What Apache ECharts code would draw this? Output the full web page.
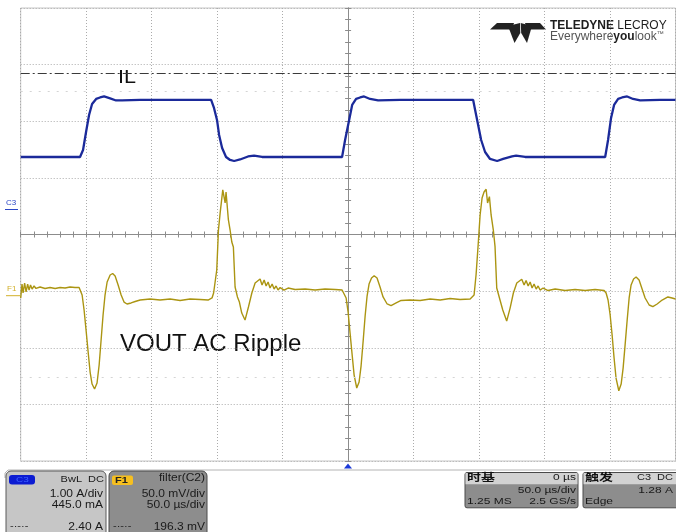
<!DOCTYPE html>
<html>
<head>
<meta charset="utf-8">
<script src="https://cdn.jsdelivr.net/npm/echarts@6/dist/echarts.min.js"></script>
<style>
  html, body { margin: 0; padding: 0; background: #fff; }
  #scope { width: 676px; height: 532px; }
</style>
</head>
<body>
<div id="scope"></div>
<script>
// time base 50 us/div, 10 div; vertical 8 div
const timeTicks = [-250, -200, -150, -100, -50, 0, 50, 100, 150, 200, 250];
const divTicks = [-4, -3, -2, -1, 0, 1, 2, 3, 4];

// channel settings
const IL_OFFSET = 0.445;     // A  (1.00 A/div)
const IL_CURSOR = 2.40;      // A
const F1_SCALE = 50;         // mV/div
const F1_ZERO_DIV = -1.081;  // F1 ground marker, in divisions

// faint dotted rows (divisions)
const faintRows = [2.53, -2.52];

// IL trace: [time us, current A]
const ilTrace = [
  [-250, 0.924], [-204.7, 0.924], [-202.4, 1.048], [-200.1, 1.366], [-197.8, 1.666],
  [-195.5, 1.860], [-192.4, 1.949], [-189.4, 1.975], [-186.3, 1.993], [-181.7, 1.958],
  [-177.2, 1.922], [-172.6, 1.922], [-158.8, 1.931], [-135.9, 1.931], [-113.0, 1.931],
  [-104.6, 1.931], [-102.4, 1.790], [-100.1, 1.578], [-98.5, 1.313], [-96.2, 1.083],
  [-93.2, 0.924], [-90.1, 0.871], [-87.0, 0.853], [-82.5, 0.880], [-76.4, 0.933],
  [-71.8, 0.947], [-65.7, 0.924], [-36.7, 0.924], [-4.6, 0.924], [-2.3, 1.224],
  [0.8, 1.578], [3.1, 1.843], [6.1, 1.949], [9.2, 1.975], [12.2, 1.993],
  [16.8, 1.949], [22.9, 1.922], [39.7, 1.931], [70.3, 1.931], [95.5, 1.931],
  [97.0, 1.754], [99.3, 1.489], [101.6, 1.224], [104.6, 1.012], [108.4, 0.889],
  [113.8, 0.853], [118.4, 0.889], [125.2, 0.933], [128.3, 0.947], [135.2, 0.924],
  [161.9, 0.924], [196.3, 0.924], [198.5, 1.224], [200.8, 1.613], [203.1, 1.843],
  [206.2, 1.949], [209.2, 1.975], [213.1, 1.993], [217.6, 1.949], [223.0, 1.922],
  [238.2, 1.931], [250, 1.931]
];

// VOUT AC ripple (F1): [time us, mV]
const voutTrace = [
  [-250, -2.0], [-249.0, 10.3], [-248.2, 2.4], [-247.0, 11.2], [-245.9, 3.3],
  [-244.7, 10.3], [-243.6, 5.0], [-242.5, 9.5], [-241.3, 5.9], [-239.8, 8.6],
  [-238.3, 6.4], [-235.2, 7.7], [-231.4, 6.4], [-227.6, 7.2], [-223.7, 6.4],
  [-219.9, 7.2], [-216.1, 6.8], [-212.3, 7.7], [-208.5, 7.2], [-205.4, 7.2],
  [-203.1, 0.6], [-201.6, -12.6], [-200.1, -30.3], [-198.5, -49.7], [-197.0, -67.4],
  [-195.5, -78.0], [-193.6, -82.4], [-191.7, -77.1], [-190.1, -61.2], [-188.6, -39.1],
  [-187.1, -17.0], [-185.6, 0.6], [-184.0, 12.1], [-181.7, 18.3], [-179.8, 19.6],
  [-177.9, 17.4], [-175.6, 9.5], [-173.3, 0.6], [-171.1, -5.6], [-168.8, -7.3],
  [-165.7, -6.4], [-162.6, -5.1], [-158.8, -3.8], [-151.2, -2.9], [-143.6, -3.8],
  [-135.9, -2.9], [-128.3, -4.2], [-120.7, -2.9], [-113.0, -3.4], [-106.9, -3.8],
  [-103.9, -2.0], [-102.7, 2.4], [-100.3, 22.7], [-99.0, 58.0], [-97.7, 73.1],
  [-95.7, 93.4], [-93.9, 81.9], [-93.2, 91.6], [-91.4, 66.9], [-90.1, 58.0],
  [-88.8, 47.4], [-87.6, 43.0], [-86.3, 7.7], [-84.5, -1.1], [-83.0, -5.6],
  [-81.2, -15.3], [-78.7, -21.5], [-76.1, -10.0], [-73.5, 2.4], [-71.0, 11.2],
  [-67.2, 14.8], [-65.7, 9.5], [-64.1, 13.9], [-62.6, 8.6], [-61.1, 12.1],
  [-59.6, 6.8], [-58.0, 10.3], [-56.5, 5.9], [-55.0, 8.6], [-53.5, 5.0],
  [-51.9, 7.2], [-48.9, 5.0], [-45.8, 6.8], [-40.5, 5.5], [-32.8, 5.9],
  [-25.2, 5.0], [-17.6, 5.9], [-9.9, 5.5], [-4.6, 5.0], [-3.1, 3.3],
  [-1.5, -2.0], [0, -14.4], [1.5, -33.0], [3.1, -52.4], [4.6, -70.1],
  [6.6, -81.5], [8.4, -76.2], [9.9, -62.1], [11.5, -40.0], [13.0, -17.9],
  [14.5, -0.3], [16.0, 10.3], [17.9, 15.6], [19.9, 17.7], [22.1, 15.6],
  [24.4, 7.7], [26.7, -1.1], [29.8, -7.3], [32.8, -8.8], [36.7, -6.4],
  [40.5, -4.2], [47.3, -3.8], [55.0, -4.2], [62.6, -2.9], [70.3, -3.8],
  [77.9, -2.5], [85.5, -3.4], [93.2, -2.9], [96.2, 0.6], [97.7, 18.3],
  [99.3, 44.8], [100.8, 71.3], [102.3, 86.3], [103.8, 91.6], [105.4, 94.0],
  [106.5, 81.9], [107.9, 87.5], [109.2, 71.3], [110.9, 58.0], [112.2, 43.3],
  [113.5, 6.8], [116.0, -3.8], [118.1, -12.6], [121.1, -22.4], [123.7, -10.9],
  [126.2, 2.4], [128.8, 11.2], [132.6, 14.5], [134.4, 9.5], [135.9, 13.5],
  [137.5, 8.6], [139.0, 12.1], [140.5, 6.8], [142.0, 10.3], [143.6, 5.9],
  [145.1, 8.6], [146.6, 5.0], [148.9, 6.8], [152.7, 4.6], [158.1, 5.9],
  [165.7, 4.6], [173.3, 5.5], [181.0, 4.6], [188.6, 5.5], [195.5, 4.6],
  [197.0, 2.4], [198.5, -3.8], [200.1, -17.0], [201.6, -34.7], [203.1, -55.0],
  [204.6, -72.7], [206.7, -83.9], [208.5, -78.0], [210.0, -63.9], [211.5, -43.6],
  [213.1, -21.5], [214.6, -2.0], [216.1, 9.5], [218.0, 14.8], [219.9, 16.5],
  [222.2, 13.9], [224.5, 5.9], [226.8, -2.0], [229.9, -8.2], [232.7, -9.7],
  [236.0, -7.3], [239.8, -3.8], [244.2, -1.1], [247.4, -2.0], [250, -2.9]
];

const FONT = '"Liberation Sans", Arial, sans-serif';
const CJK = '"Noto Sans CJK SC", sans-serif';

const gridGray = '#ababab';
const axisGray = '#8c8c8c';

function centerAxis(extra) {
  return Object.assign({
    type: 'value',
    axisLabel: { show: false },
    axisLine: { show: true, onZero: true, onZeroAxisIndex: 0, lineStyle: { color: axisGray, width: 1 } },
    axisTick: { show: true, length: 3, lineStyle: { color: axisGray } },
    minorTick: { show: true, splitNumber: 5, length: 3, lineStyle: { color: axisGray } },
    splitLine: { show: false }
  }, extra);
}

// readout text: the screen capture is squashed vertically
function txt(x, y, s, opt) {
  opt = opt || {};
  return {
    type: 'text', x: x, y: y, scaleY: opt.sy || 0.8, scaleX: opt.sx || 1, z: 10,
    style: {
      text: s, x: 0, y: 0,
      font: opt.font || ('12px ' + FONT),
      fill: opt.fill || '#1a1a1a',
      align: opt.align || 'left', verticalAlign: 'middle'
    }
  };
}

const chart = echarts.init(document.getElementById('scope'), null, { renderer: 'canvas' });

const ilMin = divTicks[0] - IL_OFFSET;
const ilMax = divTicks[divTicks.length - 1] - IL_OFFSET;
const vMin = (divTicks[0] - F1_ZERO_DIV) * F1_SCALE;
const vMax = (divTicks[divTicks.length - 1] - F1_ZERO_DIV) * F1_SCALE;

chart.setOption({
  animation: false,
  backgroundColor: '#ffffff',
  grid: {
    left: 20.7, top: 8, width: 654.8, height: 453,
    show: true, borderColor: '#c6c6c6', borderWidth: 1
  },
  xAxis: [
    centerAxis({
      min: timeTicks[0], max: timeTicks[timeTicks.length - 1], interval: 50,
      position: 'bottom',
      splitLine: { show: true, lineStyle: { color: gridGray, type: [1, 2], width: 1 } }
    }),
    centerAxis({
      min: timeTicks[0], max: timeTicks[timeTicks.length - 1], interval: 50,
      position: 'top'
    })
  ],
  yAxis: [
    centerAxis({
      min: divTicks[0], max: divTicks[divTicks.length - 1], interval: 1,
      position: 'left',
      splitLine: { show: true, lineStyle: { color: gridGray, type: [1, 2], width: 1 } }
    }),
    centerAxis({
      min: divTicks[0], max: divTicks[divTicks.length - 1], interval: 1,
      position: 'right'
    }),
    { type: 'value', show: false, min: ilMin, max: ilMax },
    { type: 'value', show: false, min: vMin, max: vMax }
  ],
  series: [
    {
      name: 'rows',
      type: 'line',
      yAxisIndex: 0,
      data: [],
      silent: true,
      markLine: {
        silent: true,
        symbol: 'none',
        label: { show: false },
        lineStyle: { color: '#d4d4d4', type: [2, 7], width: 1 },
        data: faintRows.map(v => ({ yAxis: v }))
      }
    },
    {
      name: 'VOUT AC Ripple',
      type: 'line',
      yAxisIndex: 3,
      data: voutTrace,
      showSymbol: false,
      symbol: 'none',
      lineStyle: { color: '#ab9512', width: 1.4 },
      z: 3
    },
    {
      name: 'IL',
      type: 'line',
      yAxisIndex: 2,
      data: ilTrace,
      showSymbol: false,
      symbol: 'none',
      lineStyle: { color: '#1b2a9a', width: 2.3 },
      z: 4,
      markLine: {
        silent: true,
        symbol: 'none',
        label: { show: false },
        lineStyle: { color: '#3a3a3a', type: [9, 3, 2, 3], width: 1.2 },
        data: [{ yAxis: IL_CURSOR }]
      }
    }
  ],
  graphic: [
    // trace labels
    { type: 'text', x: 118, y: 78, scaleX: 1.2, style: { text: 'IL', x: 0, y: 0, font: '18px ' + FONT, fill: '#111', verticalAlign: 'middle' } },
    { type: 'text', x: 120, y: 344, style: { text: 'VOUT AC Ripple', x: 0, y: 0, font: '24px ' + FONT, fill: '#111', verticalAlign: 'middle' } },
    // channel markers on the left edge
    { type: 'text', left: 6, top: 199, style: { text: 'C3', font: '8px ' + FONT, fill: '#2a46c6' } },
    { type: 'line', shape: { x1: 5, y1: 209.5, x2: 18, y2: 209.5 }, style: { stroke: '#2a46c6', lineWidth: 1 } },
    { type: 'text', left: 7, top: 285, style: { text: 'F1', font: '8px ' + FONT, fill: '#d2b02a' } },
    { type: 'line', shape: { x1: 6, y1: 295.7, x2: 20, y2: 295.7 }, style: { stroke: '#d2b02a', lineWidth: 1 } },
    // logo
    { type: 'polygon', shape: { points: [[490, 29.5], [497, 23], [514, 23], [512, 29.5]] }, style: { fill: '#222' } },
    { type: 'polygon', shape: { points: [[525, 23], [540, 23], [546, 29.5], [527, 29.5]] }, style: { fill: '#222' } },
    { type: 'polygon', shape: { points: [[508, 26], [520, 23], [520.3, 33], [514.5, 43]] }, style: { fill: '#222' } },
    { type: 'polygon', shape: { points: [[520.7, 23], [532, 26], [527, 43], [521.2, 33]] }, style: { fill: '#222' } },
    {
      type: 'text', x: 550, y: 26,
      style: {
        x: 0, y: 0, verticalAlign: 'middle',
        text: '{b|TELEDYNE} {n|LECROY}',
        rich: {
          b: { font: 'bold 12px ' + FONT, fill: '#1e1e1e' },
          n: { font: '12px ' + FONT, fill: '#1e1e1e' }
        }
      }
    },
    {
      type: 'text', x: 550, y: 36.5,
      style: {
        x: 0, y: 0, verticalAlign: 'middle',
        text: '{l|Everywhere}{b|you}{l|look}{t|™}',
        rich: {
          l: { font: '12px ' + FONT, fill: '#555' },
          b: { font: 'bold 12px ' + FONT, fill: '#1e1e1e' },
          t: { font: '7px ' + FONT, fill: '#555', verticalAlign: 'top' }
        }
      }
    },
    // trigger position marker + separator
    { type: 'polygon', shape: { points: [[344, 468.5], [352, 468.5], [348, 463.5]] }, style: { fill: '#1b39d8' } },
    { type: 'polyline', shape: { points: [[5, 478], [5, 473], [8, 470], [676, 470]] }, style: { stroke: '#b4b4b4', lineWidth: 1, fill: null } },

    // C3 readout
    { type: 'rect', shape: { x: 6, y: 471, width: 100, height: 70, r: [5, 5, 0, 0] }, style: { fill: '#c6c6c6', stroke: '#5a5a5a', lineWidth: 1 } },
    { type: 'rect', shape: { x: 9, y: 475, width: 26, height: 9.5, r: 3 }, style: { fill: '#0b1bd2' } },
    txt(16, 479.8, 'C3', { font: '10px ' + FONT, fill: '#3e62ff' }),
    txt(104, 479, 'BwL  DC', { font: '11px ' + FONT, align: 'right', sy: 0.85 }),
    txt(103, 494, '1.00 A/div', { align: 'right', sy: 0.85 }),
    txt(103, 505.5, '445.0 mA', { align: 'right', sy: 0.85 }),
    txt(10, 527, '-·-·-', { font: '11px ' + FONT }),
    txt(103, 527, '2.40 A', { align: 'right', sy: 0.85 }),

    // F1 readout
    { type: 'rect', shape: { x: 109, y: 471, width: 98, height: 70, r: [5, 5, 0, 0] }, style: { fill: '#8d8d8d', stroke: '#4a4a4a', lineWidth: 1 } },
    { type: 'rect', shape: { x: 112, y: 475.5, width: 21, height: 9.5, r: 2 }, style: { fill: '#f6bf1f' } },
    txt(115, 480.3, 'F1', { font: 'bold 11px ' + FONT, fill: '#222' }),
    txt(205, 478.5, 'filter(C2)', { align: 'right', sy: 0.85 }),
    txt(205, 494, '50.0 mV/div', { align: 'right', sy: 0.85 }),
    txt(205, 505.5, '50.0 µs/div', { align: 'right', sy: 0.85 }),
    txt(113, 527, '-·-·-', { font: '11px ' + FONT }),
    txt(205, 527, '196.3 mV', { align: 'right', sy: 0.85 }),

    // timebase readout
    { type: 'rect', shape: { x: 465, y: 472.5, width: 113, height: 35.3, r: 2 }, style: { fill: '#8d8d8d', stroke: '#4a4a4a', lineWidth: 1 } },
    { type: 'rect', shape: { x: 465.5, y: 473, width: 112, height: 11.3 }, style: { fill: '#d2d2d2' } },
    txt(467, 477.5, '时基', { font: 'bold 14px ' + CJK, fill: '#111', sy: 0.72 }),
    txt(576, 477.5, '0 µs', { align: 'right' }),
    txt(576, 490.7, '50.0 µs/div', { align: 'right' }),
    txt(467, 501.7, '1.25 MS'),
    txt(576, 501.7, '2.5 GS/s', { align: 'right' }),

    // trigger readout
    { type: 'rect', shape: { x: 583, y: 472.5, width: 100, height: 35.3, r: 2 }, style: { fill: '#8d8d8d', stroke: '#4a4a4a', lineWidth: 1 } },
    { type: 'rect', shape: { x: 583.5, y: 473, width: 99, height: 11.3 }, style: { fill: '#d2d2d2' } },
    txt(585, 477.5, '触发', { font: 'bold 14px ' + CJK, fill: '#111', sy: 0.72 }),
    txt(673, 477.5, 'C3  DC', { font: '11px ' + FONT, align: 'right' }),
    txt(673, 490.7, '1.28 A', { align: 'right' }),
    txt(585, 501.7, 'Edge')
  ]
});
</script>
</body>
</html>
